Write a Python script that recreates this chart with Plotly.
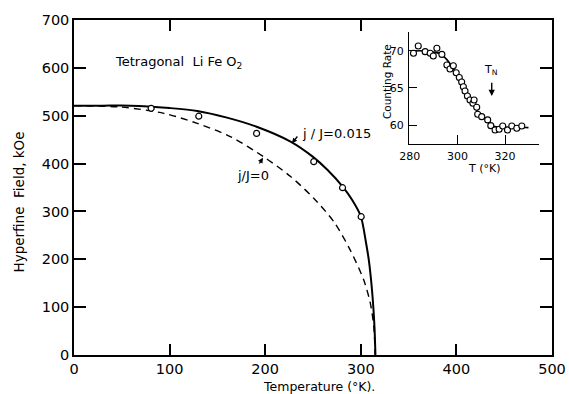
import plotly.graph_objects as go

# ---- main panel data ----
solid_T = [0, 30, 59, 100, 129, 160, 191, 226.5, 250, 265, 281, 291, 300, 305.6, 308.4, 312, 314.3, 315.3]
solid_H = [521, 521, 521, 516, 510, 496, 477, 446, 414, 387, 352, 324, 290, 233, 198, 129, 59, 0]

dashed_T = [0, 50, 94, 129, 164, 198.5, 226.5, 251, 272, 289, 303, 310, 313.6, 315]
dashed_H = [521, 518, 505, 484, 456, 414, 373, 327, 278, 219, 157, 108, 59, 0]

pts_T = [80.7, 130.5, 191, 250.8, 280.9, 300.4]
pts_H = [515.5, 499, 463, 404, 349.6, 289]

x_ticks = [0, 100, 200, 300, 400, 500]
y_ticks = [0, 100, 200, 300, 400, 500, 600, 700]

# ---- inset data ----
inset_T = [281.6, 283.6, 286.5, 288.6, 289.9, 291.4, 293.5, 295.6, 296.9, 298.3, 299.5, 300.8,
           301.8, 302.5, 303.2, 304.2, 305.3, 306.5, 307.0, 308.1, 308.5, 310.2, 312.7, 314.0,
           315.8, 317.5, 319.0, 321.0, 322.8, 324.9, 327.0]
inset_R = [69.65, 70.63, 69.87, 69.65, 69.29, 70.32, 69.5, 68.08, 67.54, 67.98, 67.04, 66.4,
           65.8, 65.16, 64.58, 63.9, 63.37, 62.93, 63.37, 62.39, 61.45, 61.13, 60.69, 59.92,
           59.34, 59.44, 59.88, 59.34, 59.88, 59.57, 59.88]
inset_curve_T = [281, 284, 288, 292.7, 295.6, 299.8, 302.5, 305.3, 308.1, 310.9, 314.4, 317.9, 322, 326, 329.8]
inset_curve_R = [69.9, 70.0, 69.9, 69.6, 68.8, 66.8, 65.2, 63.4, 62.0, 61.1, 59.9, 59.7, 59.7, 59.7, 59.65]
inset_x_ticks = [280, 300, 320]
inset_y_ticks = [60, 65, 70]

FONT = "DejaVu Sans"
fig = go.Figure()

fig.add_trace(go.Scatter(x=solid_T, y=solid_H, mode="lines", line=dict(color="black", width=2, shape="spline", smoothing=0.8),
                         xaxis="x", yaxis="y", showlegend=False))
fig.add_trace(go.Scatter(x=dashed_T, y=dashed_H, mode="lines",
                         line=dict(color="black", width=1.4, dash="7px,5px", shape="spline", smoothing=0.8),
                         xaxis="x", yaxis="y", showlegend=False))
fig.add_trace(go.Scatter(x=pts_T, y=pts_H, mode="markers",
                         marker=dict(symbol="circle", size=6, color="white", line=dict(color="black", width=1.2)),
                         xaxis="x", yaxis="y", showlegend=False))

fig.add_trace(go.Scatter(x=inset_curve_T, y=inset_curve_R, mode="lines",
                         line=dict(color="black", width=1.6, shape="spline", smoothing=0.8),
                         xaxis="x2", yaxis="y2", showlegend=False))
fig.add_trace(go.Scatter(x=inset_T, y=inset_R, mode="markers",
                         marker=dict(symbol="circle", size=6, color="white", line=dict(color="black", width=1.1)),
                         xaxis="x2", yaxis="y2", showlegend=False))

axis_common = dict(showline=True, linecolor="black", linewidth=1.5, ticks="inside", tickcolor="black",
                   tickwidth=1.5, showgrid=False, zeroline=False, mirror="ticks", automargin=False,
                   tickfont=dict(family=FONT, size=14.5, color="black"))

fig.update_layout(
    width=569, height=394,
    margin=dict(l=73.5, r=17, t=20, b=39),
    paper_bgcolor="white", plot_bgcolor="white",
    font=dict(family=FONT, color="black"),
    xaxis=dict(range=[0, 500], tickvals=x_ticks, ticklen=11, domain=[0, 1], anchor="y", **axis_common),
    yaxis=dict(range=[0, 700], tickvals=y_ticks, ticklen=12, domain=[0, 1], anchor="x", **axis_common),
    xaxis2=dict(range=[279.75, 334.25], tickvals=inset_x_ticks, domain=[0.701, 0.973], anchor="y2",
                showline=True, linecolor="black", linewidth=1.4, ticks="inside", ticklen=9, tickwidth=1.4,
                tickcolor="black", showgrid=False, zeroline=False, ticklabelstandoff=2, automargin=False,
                tickfont=dict(family=FONT, size=11, color="black")),
    yaxis2=dict(range=[57.46, 72.55], tickvals=inset_y_ticks, domain=[0.630, 0.965], anchor="x2",
                showline=True, linecolor="black", linewidth=1.4, ticks="inside", ticklen=8, tickwidth=1.4,
                tickcolor="black", showgrid=False, zeroline=False, ticklabelstandoff=2, automargin=False,
                tickfont=dict(family=FONT, size=11, color="black")),
)

ann = []
# axis titles
ann.append(dict(text="Temperature (°K).", x=0.513, y=-0.0955, xref="paper", yref="paper",
                showarrow=False, font=dict(family=FONT, size=12.5), xanchor="center", yanchor="middle"))
ann.append(dict(text="Hyperfine  Field, kOe", x=-0.116, y=0.457, xref="paper", yref="paper", textangle=-90,
                showarrow=False, font=dict(family=FONT, size=13.5), xanchor="center", yanchor="middle"))
# labels
ann.append(dict(text="Tetragonal  Li Fe O<sub>2</sub>", x=40.5, y=612, xref="x", yref="y", xanchor="left",
                yanchor="middle", showarrow=False, font=dict(family=FONT, size=13)))
ann.append(dict(text="j / J=0.015", x=236.7, y=463, xref="x", yref="y", xanchor="left", yanchor="middle",
                showarrow=False, font=dict(family=FONT, size=13)))
ann.append(dict(text="", x=228, y=442.3, ax=234.9, ay=459.7, xref="x", yref="y", axref="x", ayref="y",
                showarrow=True, arrowhead=2, arrowsize=0.8, arrowwidth=1.3, arrowcolor="black"))
ann.append(dict(text="j/J=0", x=168.8, y=376, xref="x", yref="y", xanchor="left", yanchor="middle",
                showarrow=False, font=dict(family=FONT, size=13)))
ann.append(dict(text="", x=197.7, y=412, ax=193, ay=397, xref="x", yref="y", axref="x", ayref="y",
                showarrow=True, arrowhead=2, arrowsize=0.8, arrowwidth=1.3, arrowcolor="black"))
# inset titles and T_N
ann.append(dict(text="T (°K)", x=0.859, y=0.558, xref="paper", yref="paper", showarrow=False,
                font=dict(family=FONT, size=11), xanchor="center", yanchor="middle"))
ann.append(dict(text="Counting Rate", x=0.655, y=0.815, xref="paper", yref="paper", textangle=-90,
                showarrow=False, font=dict(family=FONT, size=10.5), xanchor="center", yanchor="middle"))
ann.append(dict(text="T<sub>N</sub>", x=314.0, y=67.4, xref="x2", yref="y2", showarrow=False,
                font=dict(family=FONT, size=11), xanchor="center", yanchor="middle"))
ann.append(dict(text="", x=314.4, y=63.9, ax=314.4, ay=65.9, xref="x2", yref="y2", axref="x2", ayref="y2",
                showarrow=True, arrowhead=2, arrowsize=0.9, arrowwidth=1.4, arrowcolor="black"))
fig.update_layout(annotations=ann)

fig.write_html("out.html", config={"displayModeBar": False},
               post_script="document.body.style.margin='0';document.body.style.padding='0';")
